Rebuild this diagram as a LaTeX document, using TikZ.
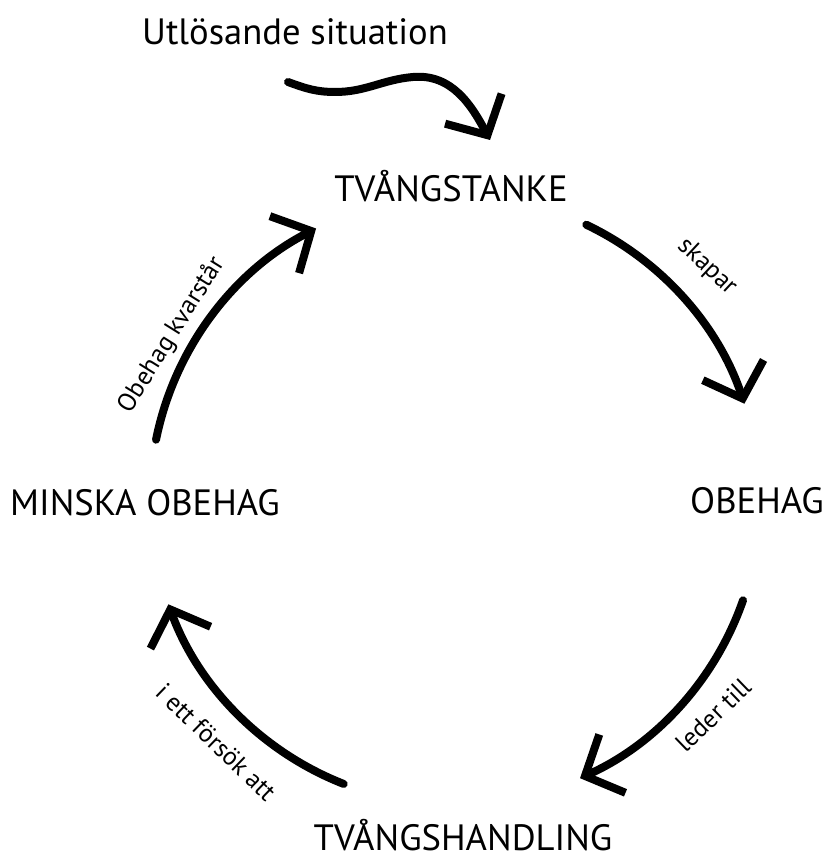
\documentclass[tikz,border=0pt]{standalone}
\usepackage{fontspec}
\setmainfont{PT Sans}
\usetikzlibrary{arrows.meta}
\tikzset{
  cyclearrow/.style={line width=4pt, line cap=round,
    -{Straight Barb[length=15pt,width=32pt,line width=4pt]}},
  stage/.style={anchor=base, inner sep=0pt, font=\fontsize{18.3}{21}\selectfont},
  note/.style={inner sep=0pt, font=\fontsize{12.8}{15}\selectfont}
}
\begin{document}
\begin{tikzpicture}[x=0.5pt,y=0.5pt]
    \useasboundingbox (0,0) rectangle (827,858);
    % stages of the cycle
    \node[stage] (trigger) at (295,813) {Utlösande situation};
    \node[stage] (tanke) at (451,656) {TVÅNGSTANKE};
    \node[stage] (obehag) at (757,344) {OBEHAG};
    \node[stage] (handling) at (463,7) {TVÅNGSHANDLING};
    \node[stage] (minska) at (145,342) {MINSKA OBEHAG};
    % labels along the arrows
    \node[note, rotate=-43] (skapar) at (707,591) {skapar};
    \node[note, rotate=44] (leder) at (713,143) {leder till};
    \node[note, rotate=-44] (forsok) at (216,116) {i ett försök att};
    \node[note, rotate=58] (kvar) at (172,523) {Obehag kvarstår};
    % arrows
    \coordinate (c) at (455,358);
    \coordinate (w0) at (288,776);
    \draw[cyclearrow] (w0) to[out=-20,in=180] (335,766) to[out=0,in=185] (413,781)
        to[out=5,in=118] (490,718);
    \path (c) ++(64.5:305) coordinate (a1);
    \path (c) ++(-19.2:305) coordinate (a2);
    \path (c) ++(248.6:305) coordinate (a3);
    \path (c) ++(168.6:305) coordinate (a4);
    \draw[cyclearrow] (a1) arc[start angle=64.5,end angle=18.4,radius=305];
    \draw[cyclearrow] (a2) arc[start angle=-19.2,end angle=-65.8,radius=305];
    \draw[cyclearrow] (a3) arc[start angle=248.6,end angle=200,radius=305];
    \draw[cyclearrow] (a4) arc[start angle=168.6,end angle=117.1,radius=305];
\end{tikzpicture}
\end{document}
